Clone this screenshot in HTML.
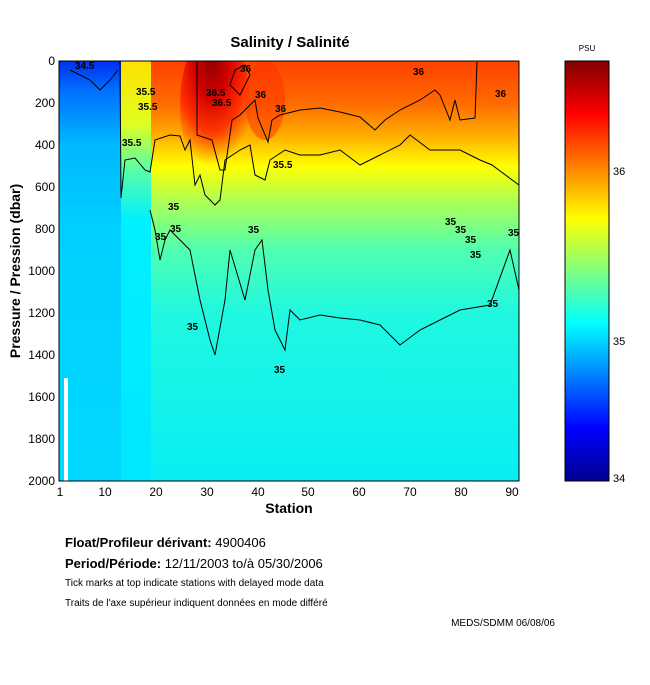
<!DOCTYPE html>
<html><head><meta charset="utf-8"><style>
body{margin:0;background:#fff;width:650px;height:680px;overflow:hidden;font-family:"Liberation Sans",sans-serif}
</style></head><body>
<svg width="650" height="680" xmlns="http://www.w3.org/2000/svg" font-family="Liberation Sans, sans-serif">
<defs>
<clipPath id="pc"><rect x="59" y="61" width="460" height="420"/></clipPath>
<linearGradient id="cb" x1="0" y1="1" x2="0" y2="0">
<stop offset="0" stop-color="#00008f"/><stop offset="0.125" stop-color="#0000ff"/>
<stop offset="0.375" stop-color="#00ffff"/><stop offset="0.625" stop-color="#ffff00"/>
<stop offset="0.875" stop-color="#ff0000"/><stop offset="1" stop-color="#800000"/>
</linearGradient>
<linearGradient id="main" x1="0" y1="0" x2="0" y2="1">
<stop offset="0" stop-color="#ff4000"/><stop offset="0.1" stop-color="#ff6a00"/>
<stop offset="0.18" stop-color="#ffb000"/><stop offset="0.25" stop-color="#ffff00"/>
<stop offset="0.33" stop-color="#b0ff50"/><stop offset="0.45" stop-color="#50ffb0"/>
<stop offset="0.6" stop-color="#20f8e0"/><stop offset="1" stop-color="#08eef4"/>
</linearGradient>
<linearGradient id="left" x1="0" y1="0" x2="0" y2="1">
<stop offset="0" stop-color="#0030f0"/><stop offset="0.07" stop-color="#0070ff"/>
<stop offset="0.2" stop-color="#00b8ff"/><stop offset="0.4" stop-color="#00d0ff"/>
<stop offset="1" stop-color="#00d8ff"/>
</linearGradient>
<linearGradient id="col" x1="0" y1="0" x2="0" y2="1">
<stop offset="0" stop-color="#ffe000"/><stop offset="0.15" stop-color="#e0ff20"/>
<stop offset="0.25" stop-color="#60ffa0"/><stop offset="0.38" stop-color="#00f0ff"/><stop offset="1" stop-color="#00e8ff"/>
</linearGradient>
<radialGradient id="red" cx="0.45" cy="0.2" r="0.7">
<stop offset="0" stop-color="#900000"/><stop offset="0.35" stop-color="#d00000"/>
<stop offset="0.7" stop-color="#ff2000" stop-opacity="0.8"/><stop offset="1" stop-color="#ff5000" stop-opacity="0"/>
</radialGradient>
</defs>
<text x="290" y="47" font-size="15" font-weight="bold" text-anchor="middle">Salinity / Salinité</text>
<g clip-path="url(#pc)">
<rect x="59" y="61" width="460" height="420" fill="url(#main)"/>
<rect x="59" y="61" width="62" height="420" fill="url(#left)"/>
<rect x="121" y="61" width="30" height="420" fill="url(#col)"/>
<ellipse cx="215" cy="105" rx="35" ry="75" fill="url(#red)"/>
<ellipse cx="265" cy="100" rx="20" ry="40" fill="#ff3000" opacity="0.5"/>
</g>
<rect x="64" y="378" width="4" height="103" fill="#fff"/>
<g fill="none" stroke="#000" stroke-width="1">
<polyline points="197,62 197,135 212,140 220,170 225,170 232,120 240,115 255,100 258,118 268,142 272,120 280,115 300,110 320,108 340,112 360,117 375,130 385,120 400,110 420,100 435,90 440,95 450,120 455,100 460,120 475,118 477,62"/>
<polyline points="120,62 121,198 125,160 135,158 145,170 150,172 155,140 170,135 180,136 185,150 190,140 195,185 200,175 205,195 215,205 220,200 225,160 240,150 250,145 255,175 265,180 270,160 285,150 300,155 320,155 340,150 360,165 380,155 400,145 410,135 430,150 460,150 480,160 492,165 519,185"/>
<polyline points="150,210 155,230 160,260 165,240 170,230 190,250 200,300 210,340 215,355 225,300 230,250 245,300 255,250 262,240 268,290 275,330 285,350 290,310 300,320 320,315 340,318 360,320 380,325 400,345 420,330 440,320 460,310 490,305 510,250 519,290"/>
<polyline points="70,70 90,80 100,90 110,80 118,70"/>
<polyline points="235,70 245,65 250,75 240,95 230,85 235,70"/>
</g>
<g font-size="10" font-weight="bold">
<text x="75" y="69">34.5</text><text x="136" y="95">35.5</text><text x="138" y="110">35.5</text>
<text x="122" y="146">35.5</text><text x="240" y="72">36</text><text x="255" y="98">36</text>
<text x="275" y="112">36</text><text x="206" y="96">36.5</text><text x="212" y="106">36.5</text>
<text x="413" y="75">36</text><text x="495" y="97">36</text><text x="273" y="168">35.5</text>
<text x="168" y="210">35</text><text x="170" y="232">35</text><text x="155" y="240">35</text>
<text x="248" y="233">35</text><text x="445" y="225">35</text><text x="455" y="233">35</text>
<text x="465" y="243">35</text><text x="470" y="258">35</text><text x="487" y="307">35</text>
<text x="508" y="236">35</text><text x="187" y="330">35</text><text x="274" y="373">35</text>
</g>
<rect x="59" y="61" width="460" height="420" fill="none" stroke="#000"/>
<g font-size="12" text-anchor="end">
<text x="55" y="65">0</text><text x="55" y="107">200</text><text x="55" y="149">400</text>
<text x="55" y="191">600</text><text x="55" y="233">800</text><text x="55" y="275">1000</text>
<text x="55" y="317">1200</text><text x="55" y="359">1400</text><text x="55" y="401">1600</text>
<text x="55" y="443">1800</text><text x="55" y="485">2000</text>
</g>
<g font-size="12" text-anchor="middle">
<text x="60" y="496">1</text><text x="105" y="496">10</text><text x="156" y="496">20</text>
<text x="207" y="496">30</text><text x="258" y="496">40</text><text x="308" y="496">50</text>
<text x="359" y="496">60</text><text x="410" y="496">70</text><text x="461" y="496">80</text><text x="512" y="496">90</text>
</g>
<text x="289" y="513" font-size="14" font-weight="bold" text-anchor="middle">Station</text>
<text transform="translate(20,271) rotate(-90)" font-size="14" font-weight="bold" text-anchor="middle">Pressure / Pression (dbar)</text>
<rect x="565" y="61" width="44" height="420" fill="url(#cb)" stroke="#000"/>
<text x="587" y="51" font-size="8" text-anchor="middle">PSU</text>
<g font-size="11"><text x="613" y="175">36</text><text x="613" y="345">35</text><text x="613" y="482">34</text></g>
<text x="65" y="547" font-size="13" font-weight="bold">Float/Profileur dérivant: <tspan font-weight="normal">4900406</tspan></text>
<text x="65" y="568" font-size="13" font-weight="bold">Period/Période: <tspan font-weight="normal">12/11/2003  to/à  05/30/2006</tspan></text>
<text x="65" y="586" font-size="10">Tick marks at top indicate stations with delayed mode data</text>
<text x="65" y="606" font-size="10">Traits de l'axe supérieur indiquent données en mode différé</text>
<text x="555" y="626" font-size="10" text-anchor="end">MEDS/SDMM  06/08/06</text>
</svg>
</body></html>
